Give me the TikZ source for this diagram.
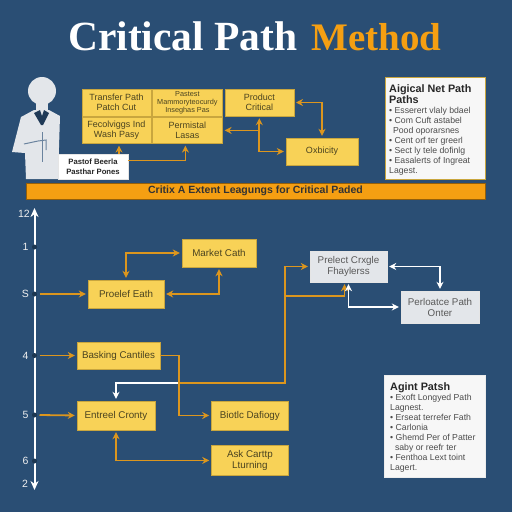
\documentclass[tikz,border=0pt]{standalone}
\usepackage{fontspec}
\setmainfont{Liberation Sans}
\newfontfamily\titlefont{Liberation Serif}
\usetikzlibrary{arrows.meta, positioning}
\definecolor{bgblue}{HTML}{2A4E74}
\definecolor{boxyellow}{HTML}{F8D257}
\definecolor{edgeyellow}{HTML}{C9A63E}
\definecolor{linkorange}{HTML}{DC961E}
\definecolor{barorange}{HTML}{F59F12}
\definecolor{inkdark}{HTML}{4A4320}
\definecolor{palegrey}{HTML}{E3E6EA}
\newcommand{\panelhead}{\bfseries\fontsize{10.8}{11}\selectfont\color{black!85}}

\begin{document}
\begin{tikzpicture}[
  x=1pt, y=-1pt,
  node distance=1pt,
  box/.style={draw=edgeyellow, fill=boxyellow, align=center, inner sep=0pt, text=inkdark,
              font=\fontsize{9}{10.5}\selectfont, minimum width=70pt, minimum height=27pt},
  lowbox/.style={box, font=\fontsize{9.8}{11}\selectfont},
  greybox/.style={lowbox, draw=white!80!gray, fill=palegrey, text=black!65, minimum width=77pt, minimum height=31pt},
  panel/.style={align=left, anchor=north west, inner sep=4pt, text=black!70, font=\fontsize{8.7}{10}\selectfont},
  axislab/.style={text=white!88!gray, font=\fontsize{10.5}{11}\selectfont},
  notch/.style={circle, fill=bgblue!70!black, inner sep=0pt, minimum size=5pt},
  oarr/.style={-{Stealth[length=7pt,width=7pt]}, linkorange, line width=1.8pt, shorten >=2pt},
  oboth/.style={oarr, {Stealth[length=7pt,width=7pt]}-{Stealth[length=7pt,width=7pt]}, shorten <=2pt},
  warr/.style={-{Stealth[length=7pt,width=7pt]}, white, line width=1.8pt, shorten >=2pt},
  wboth/.style={warr, {Stealth[length=7pt,width=7pt]}-{Stealth[length=7pt,width=7pt]}, shorten <=2pt}
]
  \fill[bgblue] (0,0) rectangle (512,512);
  \useasboundingbox (0,0) rectangle (512,512);

  \node[font=\titlefont\bfseries\fontsize{41.5}{44}\selectfont, text=white, anchor=base west, inner sep=0pt] (title) at (68,50) {Critical Path};
  \node[font=\titlefont\bfseries\fontsize{39}{44}\selectfont, text=barorange, anchor=base west, inner sep=0pt] (method) at (311,50) {Method};

  % person
  \draw[fill=palegrey, draw=none] (34,110) -- (21,117) -- (12,152) -- (25,153) -- (26,179) -- (58,179)
    -- (60,116) -- (49,110) -- cycle;
  \fill[palegrey] (36,100) rectangle (48,114);
  \fill[bgblue!75!black] (34,113) -- (40,110) -- (42,116) -- (44,110) -- (49,113) -- (43,125) -- (41,125) -- cycle;
  \draw[bgblue!70, line width=1pt] (42,132) -- (42,162);
  \draw[bgblue!70, line width=1pt] (24,144) -- (38,141) -- (46,140) -- (46,150);
  \node[circle, fill=palegrey, minimum size=28pt, inner sep=0pt] (person) at (42,91) {};

  % top block
  \node[box, minimum width=69pt] (trans) at (116.5,102.5) {Transfer Path\\Patch Cut};
  \node[box, right=of trans, font=\fontsize{7.3}{8.2}\selectfont] (mem) {Pastest\\Mammoryteocurdy\\Inseghas Pas};
  \node[box, right=2pt of mem, minimum width=69pt] (prod) {Product\\Critical};
  \node[box, below=1pt of trans, minimum width=69pt, minimum height=26pt] (know) {Fecolviggs Ind\\Wash Pasy};
  \node[box, right=of know, minimum height=26pt] (perm) {Permistal\\Lasas};
  \node[box, minimum width=72pt] (crit) at (322,151.5) {Oxbicity};
  \node[draw=white!80!gray, fill=white, align=center, inner sep=0pt, minimum width=70pt, minimum height=25pt,
        font=\bfseries\fontsize{7.7}{9.5}\selectfont, text=black!85] (note) at (93,166.5) {Pastof Beerla\\Pasthar Pones};

  \draw[oarr] (note.north -| know.south) ++(2.5pt,0) -- ([xshift=2.5pt]know.south);
  \draw[oarr] ([yshift=6pt]note.east) -| ([xshift=-2pt]perm.south);
  \draw[oboth] (crit.west) -| (prod.south);
  \coordinate (permjoin) at (prod.south |- perm.east);
  \draw[oarr] (permjoin) -- (perm.east);
  \draw[oboth] (prod.east) -| (crit.north);

  \node[draw=edgeyellow, fill=white!94!gray, minimum width=100pt, minimum height=102pt, inner sep=0pt] (panela) at (435,128) {};
  \node[panel] (panelatext) at (385,80) {\panelhead Aigical Net Path\\\panelhead Paths\\
    • Esserert vlaly bdael\\• Com Cuft astabel\\\ \,Pood oporarsnes\\• Cent orf ter greerl\\• Sect ly tele dofinlg\\• Easalerts of Ingreat\\Lagest.};

  \node[draw=black!40!barorange, fill=barorange, minimum width=459pt, minimum height=16pt, inner sep=0pt,
        font=\bfseries\fontsize{10.5}{11}\selectfont, text=black!80] (banner) at (255.5,191) {Critix A Extent Leagungs for Critical Paded};

  % axis
  \coordinate (axtop) at (34.5,208);
  \coordinate (axbot) at (34.5,490);
  \draw[{Stealth[length=9pt,width=8pt]}-{Stealth[length=9pt,width=8pt]}, white, line width=2pt] (axtop) -- (axbot);
  \foreach \nm/\lab/\ypos in {a/1/247, b/S/294, c/4/355.5, d/5/415, e/6/461} {
    \node[notch] (\nm) at (34.5,\ypos) {};
    \node[axislab] (lab\nm) at (25.5,\ypos) {\lab};
  }
  \node[axislab] (labtop) at (24,214) {12};
  \node[axislab] (labbot) at (25,484) {2};

  % lower chart
  \node[lowbox, minimum width=74pt, minimum height=28pt] (market) at (219,253) {Market Cath};
  \node[lowbox, minimum width=76pt, minimum height=28pt] (project) at (126,294) {Proelef Eath};
  \node[lowbox, minimum width=83pt, minimum height=27pt] (basking) at (118.5,355.5) {Basking Cantiles};
  \node[lowbox, minimum width=78pt, minimum height=29pt] (entrol) at (116,415.5) {Entreel Cronty};
  \node[lowbox, right=56pt of entrol, minimum width=77pt, minimum height=29pt] (biotic) {Biotlc Dafiogy};
  \node[lowbox, below=15pt of biotic, minimum width=77pt, minimum height=30pt] (ask) {Ask Carttp\\Lturning};
  \node[greybox] (crash) at (348.5,266.5) {Prelect Crxgle\\Fhaylerss};
  \node[greybox, minimum width=78pt, minimum height=32pt] (perf) at (440,307) {Perloatce Path\\Onter};

  \node[draw=white!85!gray, fill=white!94!gray, minimum width=101pt, minimum height=102pt, inner sep=0pt] (panelb) at (434.5,426) {};
  \node[panel] (panelbtext) at (386,378) {\panelhead Agint Patsh\\
    • Exoft Longyed Path\\Lagnest.\\• Erseat terrefer Fath\\• Carlonia\\• Ghemd Per of Patter\\\ \ saby or reefr ter\\• Fenthoa Lext toint\\Lagert.};

  \draw[oboth] (project.north) |- (market.west);
  \draw[oboth] (project.east) -| (market.south);
  \draw[oarr] (b) ++(5pt,0) -- (project.west);
  \draw[oarr] (c) ++(5pt,0) -- (basking.west);
  \draw[oarr] (d) ++(5pt,0) -- (entrol.west);

  \coordinate (split) at (179,383);
  \coordinate (rise) at (285,296);
  \draw[warr] (split) -| (entrol.north);
  \draw[oarr] (basking.east) -| (split) |- (biotic.west);
  \draw[oarr] (split) -| (rise) |- (crash.west);
  \draw[oarr] (rise) -| ([xshift=-4pt]crash.south);
  \draw[oboth] (entrol.south) |- (ask.west);
  \draw[wboth] (crash.south) |- (perf.west);
  \draw[wboth] (crash.east) -| (perf.north);
\end{tikzpicture}
\end{document}
